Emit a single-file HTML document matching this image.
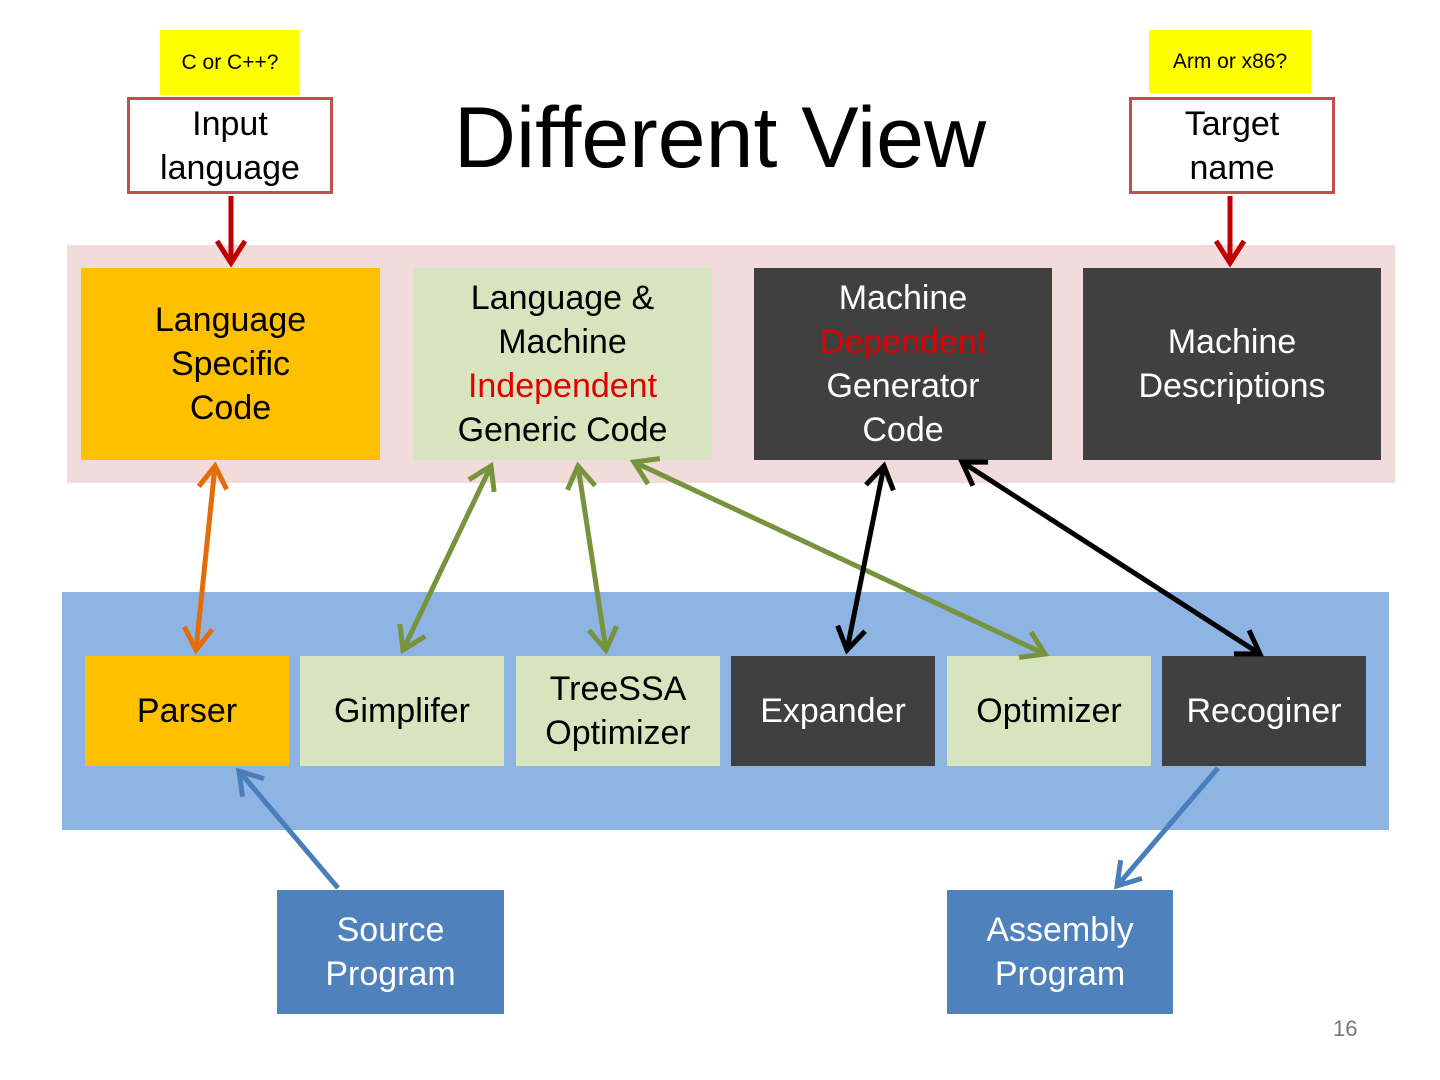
<!DOCTYPE html>
<html><head><meta charset="utf-8"><style>
body{margin:0;width:1440px;height:1080px;background:#fff;position:relative;overflow:hidden;font-family:"Liberation Sans",sans-serif}
.b{position:absolute;display:flex;align-items:center;justify-content:center;text-align:center;font-size:34px;line-height:44px;box-sizing:border-box}
.y{background:#ffff00;font-size:21px;color:#000}
.r{background:#fff;border:3px solid #c0504d;line-height:44px}
.o{background:#ffc000;color:#000}
.g{background:#d7e4bd;color:#000}
.d{background:#404040;color:#fff}
.s{background:#4f81bd;color:#fff}
.red{color:#e00000}
</style></head><body>
<div class="b" style="left:67px;top:245px;width:1328px;height:238px;background:#f2dcdb"></div>
<div class="b" style="left:62px;top:592px;width:1327px;height:238px;background:#8eb4e3"></div>
<div class="b y" style="left:160px;top:30px;width:140px;height:65px"><div>C or C++?</div></div>
<div class="b y" style="left:1149px;top:30px;width:162px;height:63px"><div>Arm or x86?</div></div>
<div class="b r" style="left:127px;top:97px;width:206px;height:97px"><div>Input<br>language</div></div>
<div class="b r" style="left:1129px;top:97px;width:206px;height:97px"><div>Target<br>name</div></div>
<div style="position:absolute;left:380px;top:88px;width:680px;text-align:center;font-size:86px;line-height:100px">Different View</div>
<div class="b o" style="left:81px;top:268px;width:299px;height:192px"><div>Language<br>Specific<br>Code</div></div>
<div class="b g" style="left:413px;top:268px;width:299px;height:192px"><div>Language &amp;<br>Machine<br><span class="red">Independent</span><br>Generic Code</div></div>
<div class="b d" style="left:754px;top:268px;width:298px;height:192px"><div>Machine<br><span class="red">Dependent</span><br>Generator<br>Code</div></div>
<div class="b d" style="left:1083px;top:268px;width:298px;height:192px"><div>Machine<br>Descriptions</div></div>
<div class="b o" style="left:85px;top:656px;width:204px;height:110px"><div>Parser</div></div>
<div class="b g" style="left:300px;top:656px;width:204px;height:110px"><div>Gimplifer</div></div>
<div class="b g" style="left:516px;top:656px;width:204px;height:110px"><div>TreeSSA<br>Optimizer</div></div>
<div class="b d" style="left:731px;top:656px;width:204px;height:110px"><div>Expander</div></div>
<div class="b g" style="left:947px;top:656px;width:204px;height:110px"><div>Optimizer</div></div>
<div class="b d" style="left:1162px;top:656px;width:204px;height:110px"><div>Recoginer</div></div>
<div class="b s" style="left:277px;top:890px;width:227px;height:124px"><div>Source<br>Program</div></div>
<div class="b s" style="left:947px;top:890px;width:226px;height:124px"><div>Assembly<br>Program</div></div>
<div style="position:absolute;left:1333px;top:1016px;font-size:22px;color:#777">16</div>
<svg width="1440" height="1080" style="position:absolute;left:0;top:0">
<defs>
<marker id="mr" markerWidth="10" markerHeight="10" refX="8" refY="5" orient="auto-start-reverse" markerUnits="userSpaceOnUse" viewBox="0 0 10 10" style="overflow:visible"><polyline points="-14,-9 8,5 -14,19" fill="none" stroke="context-stroke" stroke-width="5"/></marker>
</defs>
<g fill="none" stroke-width="5">
<line x1="231" y1="196" x2="231" y2="263" stroke="#c00000" marker-end="url(#mr)"/>
<line x1="1230" y1="196" x2="1230" y2="263" stroke="#c00000" marker-end="url(#mr)"/>
<line x1="215" y1="466" x2="196" y2="650" stroke="#e46c0a" marker-start="url(#mr)" marker-end="url(#mr)"/>
<line x1="491" y1="466" x2="403" y2="650" stroke="#77933c" marker-start="url(#mr)" marker-end="url(#mr)"/>
<line x1="578" y1="466" x2="606" y2="650" stroke="#77933c" marker-start="url(#mr)" marker-end="url(#mr)"/>
<line x1="634" y1="462" x2="1045" y2="654" stroke="#77933c" marker-start="url(#mr)" marker-end="url(#mr)"/>
<line x1="884" y1="466" x2="847" y2="650" stroke="#000" marker-start="url(#mr)" marker-end="url(#mr)"/>
<line x1="962" y1="462" x2="1260" y2="654" stroke="#000" marker-start="url(#mr)" marker-end="url(#mr)"/>
<line x1="338" y1="888" x2="239" y2="771" stroke="#4a7ebb" marker-end="url(#mr)"/>
<line x1="1218" y1="768" x2="1117" y2="886" stroke="#4a7ebb" marker-end="url(#mr)"/>
</g>
</svg>
</body></html>
